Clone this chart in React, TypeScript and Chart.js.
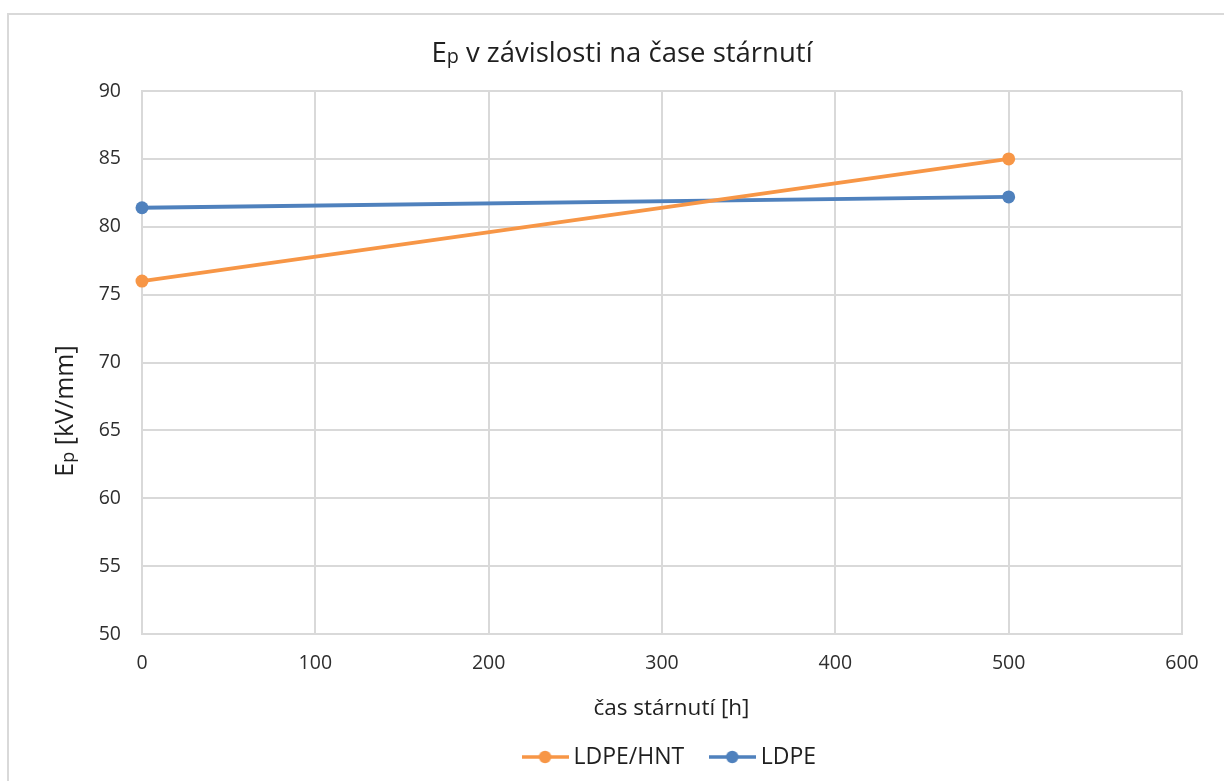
import React, { useEffect, useRef } from 'react';
import { Chart, registerables } from 'chart.js';

Chart.register(...registerables);

// ---- data ----
const agingHours = [0, 500];
const ldpeHntValues = [76.0, 85.0];
const ldpeValues = [81.4, 82.2];
const seriesNames = ['LDPE/HNT', 'LDPE'];
const seriesColors = ['#F79646', '#4F81BD'];
const xTickValues = [0, 100, 200, 300, 400, 500, 600];
const yTickValues = [50, 55, 60, 65, 70, 75, 80, 85, 90];

// ---- texts ----
const titleMain = 'E';
const titleSub = 'p';
const titleRest = ' v závislosti na čase stárnutí';
const xAxisTitle = 'čas stárnutí [h]';
const yTitleMain = 'E';
const yTitleSub = 'p';
const yTitleRest = ' [kV/mm]';

const FONT = '"Open Sans", "Noto Sans", sans-serif';
const TEXT_DARK = '#1f1f1f';
const TICK_COLOR = '#2e2e2e';
const GRID_COLOR = '#d9d9d9';

function drawRich(
  ctx: CanvasRenderingContext2D,
  cx: number,
  baseline: number,
  main: string,
  sub: string,
  rest: string,
  size: number,
  color: string
) {
  const subSize = size * 0.72;
  ctx.font = `${size}px ${FONT}`;
  const w1 = ctx.measureText(main).width;
  const w3 = ctx.measureText(rest).width;
  ctx.font = `${subSize}px ${FONT}`;
  const w2 = ctx.measureText(sub).width;
  let x = cx - (w1 + w2 + w3) / 2;
  ctx.textAlign = 'left';
  ctx.textBaseline = 'alphabetic';
  ctx.fillStyle = color;
  ctx.font = `${size}px ${FONT}`;
  ctx.fillText(main, x, baseline);
  x += w1;
  ctx.font = `${subSize}px ${FONT}`;
  ctx.fillText(sub, x, baseline + size * 0.04);
  x += w2;
  ctx.font = `${size}px ${FONT}`;
  ctx.fillText(rest, x, baseline);
}

function makeLegendIcon(color: string): HTMLCanvasElement {
  const c = document.createElement('canvas');
  c.width = 47;
  c.height = 14;
  const g = c.getContext('2d')!;
  g.strokeStyle = color;
  g.lineWidth = 3.5;
  g.beginPath();
  g.moveTo(0, 7);
  g.lineTo(47, 7);
  g.stroke();
  g.fillStyle = color;
  g.beginPath();
  g.arc(23.5, 7, 6.2, 0, Math.PI * 2);
  g.fill();
  return c;
}

const titlesPlugin = {
  id: 'customTitles',
  afterDraw(chart: any) {
    const ctx = chart.ctx as CanvasRenderingContext2D;
    ctx.save();
    drawRich(ctx, 613, 47, titleMain, titleSub, titleRest, 27.5, TEXT_DARK);
    ctx.font = `22.5px ${FONT}`;
    ctx.fillStyle = TEXT_DARK;
    ctx.textAlign = 'center';
    ctx.textBaseline = 'alphabetic';
    ctx.fillText(xAxisTitle, 662.5, 700);
    ctx.translate(64, 396);
    ctx.rotate(-Math.PI / 2);
    drawRich(ctx, 0, 0, yTitleMain, yTitleSub, yTitleRest, 25, TEXT_DARK);
    ctx.restore();
  },
};

const legendShiftPlugin = {
  id: 'legendShift',
  afterLayout(chart: any) {
    const lg = chart.legend;
    if (lg) {
      lg.left += 10;
      lg.right += 10;
    }
  },
};

export default function App() {
  const canvasRef = useRef<HTMLCanvasElement | null>(null);

  useEffect(() => {
    const canvas = canvasRef.current;
    if (!canvas) return;
    const icons = seriesColors.map(makeLegendIcon);
    const seriesValues = [ldpeHntValues, ldpeValues];

    const chart = new Chart(canvas, {
      type: 'line',
      data: {
        datasets: seriesNames.map((name, i) => ({
          label: name,
          data: agingHours.map((h, j) => ({ x: h, y: seriesValues[i][j] })),
          borderColor: seriesColors[i],
          backgroundColor: seriesColors[i],
          pointBackgroundColor: seriesColors[i],
          pointBorderColor: seriesColors[i],
          pointBorderWidth: 0,
          pointRadius: 6.5,
          borderWidth: 3.8,
          tension: 0,
          fill: false,
          clip: false as any,
        })),
      },
      options: {
        animation: false,
        responsive: false,
        devicePixelRatio: 1,
        layout: { padding: { top: 76, right: 42, bottom: 2.5, left: 0 } },
        plugins: {
          title: { display: false },
          tooltip: { enabled: false },
          legend: {
            display: true,
            position: 'bottom',
            fullSize: false,
            labels: {
              usePointStyle: true,
              pointStyleWidth: 34,
              padding: 31,
              color: TEXT_DARK,
              font: { family: FONT, size: 23 },
              generateLabels: (ch: any) =>
                (Chart.defaults.plugins.legend.labels.generateLabels as any)(ch).map((l: any) => ({
                  ...l,
                  pointStyle: icons[l.datasetIndex],
                })),
            },
          },
        },
        scales: {
          x: {
            type: 'linear',
            min: 0,
            max: 600,
            afterBuildTicks: (s: any) => {
              s.ticks = xTickValues.map((v) => ({ value: v }));
            },
            afterFit: (s: any) => {
              s.height = 80.5;
            },
            grid: { color: GRID_COLOR, lineWidth: 2, drawTicks: false },
            border: { color: GRID_COLOR, width: 2 },
            ticks: {
              padding: 18,
              color: TICK_COLOR,
              font: { family: FONT, size: 19.5 },
              maxRotation: 0,
            },
          },
          y: {
            type: 'linear',
            min: 50,
            max: 90,
            afterBuildTicks: (s: any) => {
              s.ticks = yTickValues.map((v) => ({ value: v }));
            },
            afterFit: (s: any) => {
              s.width = 133;
            },
            grid: { color: GRID_COLOR, lineWidth: 2, drawTicks: false },
            border: { color: GRID_COLOR, width: 2 },
            ticks: {
              padding: 21,
              color: TICK_COLOR,
              font: { family: FONT, size: 19.5 },
            },
          },
        },
      } as any,
      plugins: [titlesPlugin, legendShiftPlugin],
    });
    return () => chart.destroy();
  }, []);

  return (
    <div
      style={{
        position: 'fixed',
        left: 7,
        top: 13,
        width: 1215,
        height: 766,
        borderLeft: '2px solid #d9d9d9',
        borderTop: '2px solid #d9d9d9',
        background: '#fff',
      }}
    >
      <canvas ref={canvasRef} width={1215} height={766} style={{ display: 'block' }} />
    </div>
  );
}
